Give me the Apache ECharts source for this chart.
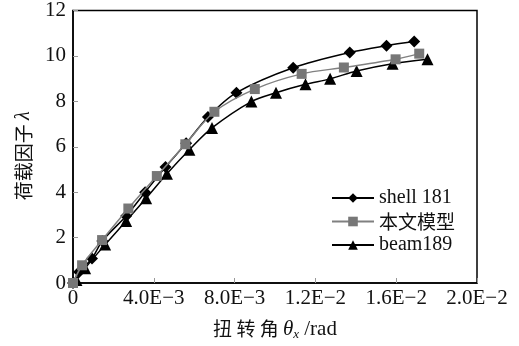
<!DOCTYPE html>
<html><head><meta charset="utf-8">
<script src="https://cdn.jsdelivr.net/npm/echarts@6/dist/echarts.min.js"></script>
<style>html,body{margin:0;padding:0;background:#fff}#c{width:519px;height:346px}</style>
</head><body><div id="c"></div>
<script>
const seriesNames = ['shell 181', '本文模型', 'beam189'];
const shellX = [0, 0.0003, 0.00094, 0.00145, 0.00263, 0.00357, 0.00458, 0.0056, 0.00668, 0.00809, 0.0109, 0.0137, 0.01552, 0.01689];
const shellY = [0, 0.48, 1.08, 1.85, 2.95, 4.0, 5.11, 6.15, 7.31, 8.38, 9.48, 10.15, 10.45, 10.63];
const modelX = [0, 0.00045, 0.00144, 0.00274, 0.00415, 0.00556, 0.0070, 0.0090, 0.01132, 0.01341, 0.01597, 0.01714];
const modelY = [0, 0.78, 1.89, 3.28, 4.71, 6.11, 7.54, 8.54, 9.21, 9.49, 9.85, 10.10];
const beamX = [0.00017, 0.0006, 0.00159, 0.00263, 0.00362, 0.00465, 0.00576, 0.00688, 0.00883, 0.01005, 0.01151, 0.01273, 0.01404, 0.01582, 0.01755];
const beamY = [0.13, 0.65, 1.69, 2.73, 3.73, 4.81, 5.87, 6.83, 7.99, 8.38, 8.75, 8.99, 9.34, 9.66, 9.85];
const xTickLabels = {0: '0', 0.004: '4.0E\u22123', 0.008: '8.0E\u22123', 0.012: '1.2E\u22122', 0.016: '1.6E\u22122', 0.02: '2.0E\u22122'};

const zip = (a, b) => a.map((v, i) => [v, b[i]]);
const serif = '"Liberation Serif", "DejaVu Serif", serif';
const cjk = '"Noto Sans CJK SC", ' + serif;
const chart = echarts.init(document.getElementById('c'));
chart.setOption({
  animation: false,
  textStyle: {fontFamily: serif},
  grid: {left: 73, right: 42, top: 10, bottom: 59, show: true, borderColor: '#000', borderWidth: 1.5},
  legend: {
    orient: 'vertical', left: 326, top: 183, itemGap: 4, itemWidth: 42, itemHeight: 12,
    textStyle: {fontFamily: 'Liberation Serif', fontSize: 20, color: '#111'},
    data: seriesNames.map(n => ({name: n, textStyle: {fontFamily: /^[\x00-\x7f]+$/.test(n) ? 'Liberation Serif' : 'Noto Sans CJK SC', fontSize: /^[\x00-\x7f]+$/.test(n) ? 20 : 19}}))
  },
  xAxis: {
    type: 'value', min: 0, max: 0.02, interval: 0.004,
    axisLine: {lineStyle: {color: '#000', width: 1.5}},
    axisTick: {inside: true, length: 5, lineStyle: {color: '#999'}},
    splitLine: {show: false},
    axisLabel: {fontFamily: serif, fontSize: 21, color: '#111', margin: 5,
      formatter: v => xTickLabels[Math.round(v * 1000) / 1000] ?? ''},
    name: '{a|扭 转 角 }{b|θ}{c|x}{d| /rad}', nameLocation: 'middle', nameGap: 34,
    nameTextStyle: {rich: {
      a: {fontFamily: cjk, fontSize: 19, color: '#111'},
      b: {fontFamily: serif, fontStyle: 'italic', fontSize: 21, color: '#111'},
      c: {fontFamily: serif, fontStyle: 'italic', fontSize: 13, color: '#111', padding: [11, 0, 0, 0]},
      d: {fontFamily: serif, fontSize: 21, color: '#111'}
    }}
  },
  yAxis: {
    type: 'value', min: 0, max: 12, interval: 2,
    axisLine: {lineStyle: {color: '#000', width: 1.5}},
    axisTick: {show: true, inside: true, length: 5, lineStyle: {color: '#999'}},
    splitLine: {show: false},
    axisLabel: {fontFamily: serif, fontSize: 21, color: '#111', margin: 7},
    name: '{a|荷载因子 }{b|λ}', nameLocation: 'middle', nameGap: 38, nameRotate: 90,
    nameTextStyle: {padding: [0, 18, 0, 0], rich: {
      a: {fontFamily: cjk, fontSize: 19, color: '#111'},
      b: {fontFamily: serif, fontStyle: 'italic', fontSize: 20, color: '#111'}
    }}
  },
  series: [
    {name: seriesNames[0], type: 'line', smooth: 0.3, data: zip(shellX, shellY), symbol: 'diamond', symbolSize: 12,
      lineStyle: {color: '#000', width: 1.5}, itemStyle: {color: '#000'}, z: 3},
    {name: seriesNames[1], type: 'line', smooth: 0.3, data: zip(modelX, modelY), symbol: 'rect', symbolSize: 10,
      lineStyle: {color: '#808080', width: 1.5}, itemStyle: {color: '#777'}, z: 4},
    {name: seriesNames[2], type: 'line', smooth: 0.3, data: zip(beamX, beamY), symbol: 'triangle', symbolSize: 12,
      lineStyle: {color: '#000', width: 1.5}, itemStyle: {color: '#000'}, z: 2}
  ]
});
</script></body></html>
